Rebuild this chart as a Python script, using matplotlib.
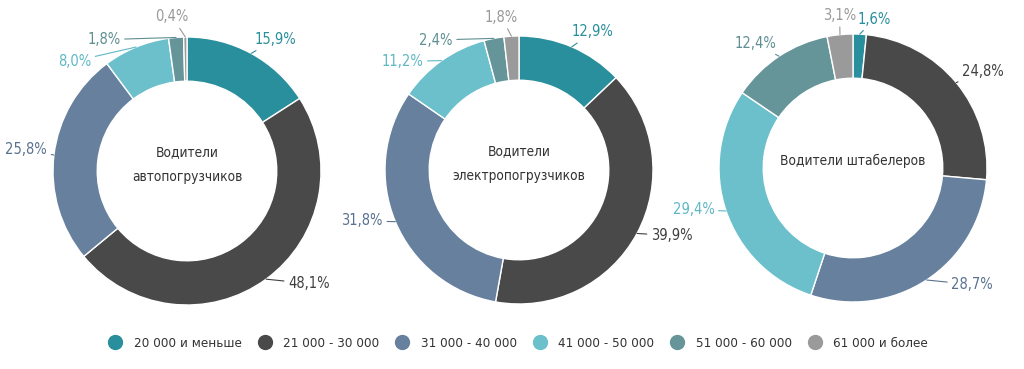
import numpy as np
import matplotlib.pyplot as plt
from matplotlib.lines import Line2D

plt.rcParams['font.family'] = ['DejaVu Sans']
plt.rcParams['font.stretch'] = 'condensed'

categories = ['20 000 и меньше', '21 000 - 30 000', '31 000 - 40 000',
              '41 000 - 50 000', '51 000 - 60 000', '61 000 и более']
titles = ['Водители\nавтопогрузчиков', 'Водители\nэлектропогрузчиков', 'Водители штабелеров']
auto = [15.9, 48.1, 25.8, 8.0, 1.8, 0.4]
electro = [12.9, 39.9, 31.8, 11.2, 2.4, 1.8]
stacker = [1.6, 24.8, 28.7, 29.4, 12.4, 3.1]
series = [auto, electro, stacker]

colors = ['#2a8f9c', '#494949', '#66809e', '#6bc0cb', '#669599', '#9a9a9a']
label_colors = ['#2a8f9c', '#404040', '#5a7290', '#5fb8c4', '#5f8f93', '#999999']

# donut centres in pixels and label positions (in radius units)
centres = [(187, 171), (519, 170), (853, 168)]
label_pos = [
    [(0.66, 0.98), (0.91, -0.84), (-1.20, 0.16), (-0.84, 0.82), (-0.62, 0.98), (-0.11, 1.15)],
    [(0.55, 1.03), (1.14, -0.49), (-1.17, -0.38), (-0.87, 0.81), (-0.62, 0.97), (-0.13, 1.14)],
    [(0.16, 1.11), (0.97, 0.72), (0.89, -0.87), (-1.19, -0.31), (-0.73, 0.93), (-0.10, 1.14)],
]

W, H, R = 1024, 369, 134
fig = plt.figure(figsize=(W / 100, H / 100), dpi=100)

for vals, title, (cx, cy), lp in zip(series, titles, centres, label_pos):
    L = 1.4
    ax = fig.add_axes([(cx - L * R) / W, (H - cy - L * R) / H, 2 * L * R / W, 2 * L * R / H])
    ax.pie(vals, colors=colors, startangle=90, counterclock=False, radius=1,
           wedgeprops=dict(width=0.33, edgecolor='white', linewidth=1))
    ax.set_xlim(-L, L)
    ax.set_ylim(-L, L)
    ax.set_aspect('auto')
    ax.axis('off')
    ax.text(0, 0.05, title, ha='center', va='center', fontsize=9.8, color='#333333', linespacing=2.0)
    cum = np.cumsum([0] + vals[:-1])
    for i, v in enumerate(vals):
        ang = np.deg2rad(90 - 360 * (cum[i] + v / 2) / 100)
        x0, y0 = np.cos(ang), np.sin(ang)
        tx, ty = lp[i]
        lab = f'{v:.1f}%'.replace('.', ',')
        ax.annotate(lab, xy=(x0, y0), xytext=(tx, ty), ha='center', va='center',
                    fontsize=10.5, color=label_colors[i],
                    arrowprops=dict(arrowstyle='-', color=label_colors[i], lw=0.8,
                                    shrinkA=1, shrinkB=0))

handles = [Line2D([0], [0], marker='o', linestyle='', markersize=10,
                  markerfacecolor=c, markeredgecolor=c) for c in colors]
fig.legend(handles, categories, loc='center', bbox_to_anchor=(0.503, 0.07), ncol=6,
           frameon=False, fontsize=9.6, handletextpad=0.4, columnspacing=0.7,
           labelcolor='#333333')

fig.savefig('out.png', dpi=100, facecolor='white')
